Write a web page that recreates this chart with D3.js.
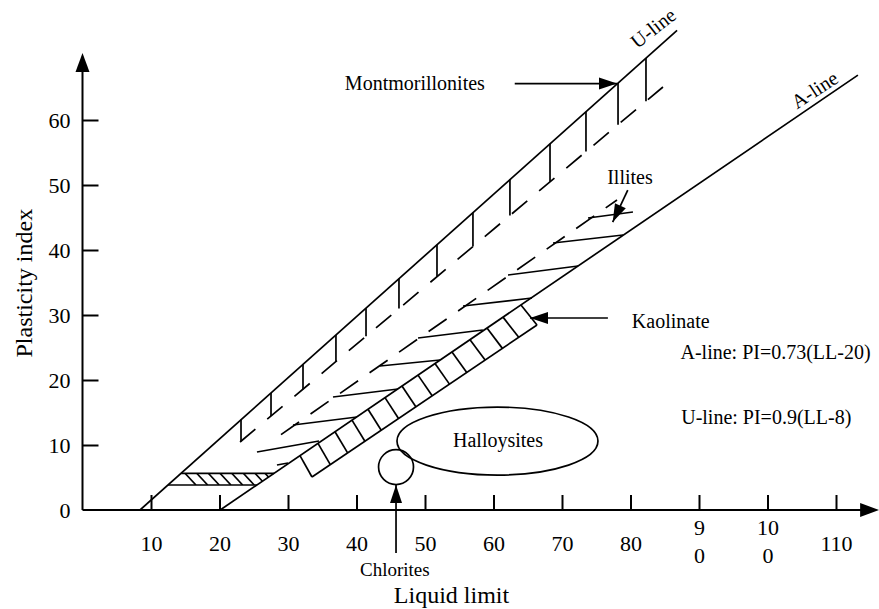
<!DOCTYPE html>
<html>
<head>
<meta charset="utf-8">
<script src="https://cdn.jsdelivr.net/npm/d3@7"></script>
<style>
  body { margin: 0; background: #fff; }
  svg { display: block; font-family: "Liberation Serif", "Times New Roman", serif; }
</style>
</head>
<body>
<div id="chart"></div>
<script>
// Axis ticks
const xTicks = [10, 20, 30, 40, 50, 60, 70, 80, 90, 100, 110];
const xTickLabels = ["10", "20", "30", "40", "50", "60", "70", "80", "9|0", "10|0", "110"];
const yTicks = [0, 10, 20, 30, 40, 50, 60];

// Boundary lines as drawn, [LL, PI] end points
const uLine = [[8.4, 0], [86.8, 73.8]];
const aLine = [[20.1, 0], [113.2, 66.9]];
const montDash = [[23.0, 10.46], [84.74, 65.08]];
const illiteDash = [[28.98, 11.6], [78.03, 47.69]];

// Montmorillonite ticks (LL), hanging from the U-line down to the dashed line
const montTicks = [23.14, 27.52, 32.19, 37.0, 41.39, 46.2, 51.75, 57.0, 62.4, 68.25, 73.5, 78.18, 82.26];

// Illite hatches, [[LL, PI], [LL, PI]]
const illiteHatches = [
    [[28.39, 6.92], [30.0, 7.23]],
    [[25.47, 8.92], [34.53, 10.62]],
    [[30.73, 13.08], [40.07, 14.31]],
    [[36.57, 17.38], [46.06, 18.62]],
    [[43.43, 22.15], [52.19, 23.08]],
    [[48.98, 26.46], [58.45, 27.69]],
    [[55.55, 31.38], [65.62, 32.62]],
    [[62.12, 36.15], [72.34, 37.54]],
    [[68.69, 41.08], [78.91, 42.31]],
    [[73.80, 44.92], [80.36, 45.85]]
];

// Kaolinite band: cell borders along the A-line (LL) and the lower edge
const kaolinBorders = [31.75, 34.38, 36.86, 39.34, 41.68, 44.16, 46.64, 48.98, 51.46, 53.94, 56.57, 59.05, 61.39, 64.01];
const kaolinLower = [[33.5, 5.08], [66.35, 28.46]];

// Hatched band between U-line and A-line near the origin
const bandPI = [3.85, 5.65];
const bandHatches = [14.96, 16.67, 18.36, 20.07, 21.78, 23.47, 25.18, 26.64];

// Chlorites circle and Halloysites ellipse (LL, PI, radii in axis units)
const chlorite = { ll: 45.77, pi: 6.6, r: 2.55 };
const halloysite = { ll: 60.58, pi: 10.6, rx: 14.67, ry: 5.23 };

// Annotation arrows, from -> tip
const arrows = [
    { from: [63.1, 65.6], to: [78.03, 65.6] },   // Montmorillonites
    { from: [79.6, 49.2], to: [77.4, 44.3] },    // Illites
    { from: [76.7, 29.54], to: [65.33, 29.54] }, // Kaolinate
    { from: [45.77, -6.6], to: [45.77, 3.85] }   // Chlorites
];

const labels = [
    { text: "Montmorillonites", ll: 38.3, pi: 64.6, anchor: "start", size: 20 },
    { text: "Illites", ll: 76.6, pi: 50.15, anchor: "start", size: 20 },
    { text: "Kaolinate", ll: 80.2, pi: 28.0, anchor: "start", size: 20 },
    { text: "A-line: PI=0.73(LL-20)", ll: 87.3, pi: 23.2, anchor: "start", size: 20 },
    { text: "U-line: PI=0.9(LL-8)", ll: 87.4, pi: 13.2, anchor: "start", size: 20 },
    { text: "Halloysites", ll: 60.66, pi: 9.7, anchor: "middle", size: 20 },
    { text: "Chlorites", ll: 45.6, pi: -10.15, anchor: "middle", size: 19 }
];

const lineLabels = [
    { text: "U-line", ll: 81.0, pi: 70.9, angle: -38 },
    { text: "A-line", ll: 104.3, pi: 61.6, angle: -33 }
];

const xTip = 116.3, yTip = 70.3;

// Set up chart
const width = 879, height = 609;
const svg = d3.select("#chart")
    .append("svg")
    .attr("width", width)
    .attr("height", height);

const x = d3.scaleLinear().domain([0, 110]).range([82.5, 836]);
const y = d3.scaleLinear().domain([0, 60]).range([510, 120]);

const pt = p => [x(p[0]), y(p[1])];
const line = d3.line();

// PI on a drawn line at a given LL, and LL at a given PI
const piAt = (seg, ll) => seg[0][1] + (ll - seg[0][0]) * (seg[1][1] - seg[0][1]) / (seg[1][0] - seg[0][0]);
const llAt = (seg, pi) => seg[0][0] + (pi - seg[0][1]) * (seg[1][0] - seg[0][0]) / (seg[1][1] - seg[0][1]);

const draw = svg.append("g")
    .attr("fill", "none")
    .attr("stroke", "#000")
    .attr("stroke-width", 1.7);

// U-line and A-line
[uLine, aLine].forEach(seg => {
    draw.append("path").attr("d", line(seg.map(pt)));
});

// Dashed boundaries
draw.append("path")
    .attr("d", line(montDash.map(pt)))
    .attr("stroke-dasharray", "20,15.5");
draw.append("path")
    .attr("d", line(illiteDash.map(pt)))
    .attr("stroke-dasharray", "22,14");

// Montmorillonite ticks
draw.selectAll(".mont")
    .data(montTicks)
    .enter()
    .append("path")
    .attr("class", "mont")
    .attr("d", d => line([pt([d, piAt(uLine, d)]), pt([d, piAt(montDash, d)])]));

// Illite hatches
draw.selectAll(".illite")
    .data(illiteHatches)
    .enter()
    .append("path")
    .attr("class", "illite")
    .attr("d", d => line(d.map(pt)));

// Kaolinite band
const k0 = kaolinBorders[0], kN = kaolinBorders[kaolinBorders.length - 1];
const kaolinPair = ll => {
    const t = (ll - k0) / (kN - k0);
    const lower = [
        kaolinLower[0][0] + t * (kaolinLower[1][0] - kaolinLower[0][0]),
        kaolinLower[0][1] + t * (kaolinLower[1][1] - kaolinLower[0][1])
    ];
    return [pt([ll, piAt(aLine, ll)]), pt(lower)];
};
draw.append("path")
    .attr("d", line(kaolinLower.map(pt)));
draw.selectAll(".kaolin")
    .data(kaolinBorders)
    .enter()
    .append("path")
    .attr("class", "kaolin")
    .attr("d", d => line(kaolinPair(d)));

// Hatched band near the origin
const bandPoly = [
    [llAt(uLine, bandPI[1]), bandPI[1]],
    [llAt(aLine, bandPI[1]), bandPI[1]],
    [llAt(aLine, bandPI[0]), bandPI[0]],
    [llAt(uLine, bandPI[0]), bandPI[0]]
];
svg.append("clipPath")
    .attr("id", "bandClip")
    .append("path")
    .attr("d", line(bandPoly.map(pt)) + "Z");
draw.append("path").attr("d", line([bandPoly[0], bandPoly[1]].map(pt)));
draw.append("path").attr("d", line([bandPoly[3], bandPoly[2]].map(pt)));
draw.append("g")
    .attr("clip-path", "url(#bandClip)")
    .selectAll("path")
    .data(bandHatches)
    .enter()
    .append("path")
    .attr("d", d => line([pt([d, bandPI[1]]), pt([d + 1.6, bandPI[0]])]));

// Chlorites and Halloysites
draw.append("circle")
    .attr("cx", x(chlorite.ll))
    .attr("cy", y(chlorite.pi))
    .attr("r", x(chlorite.r) - x(0));
draw.append("ellipse")
    .attr("cx", x(halloysite.ll))
    .attr("cy", y(halloysite.pi))
    .attr("rx", x(halloysite.rx) - x(0))
    .attr("ry", y(0) - y(halloysite.ry));

// Arrow head helper (pixel space)
function arrowHead(tip, from, len, half) {
    const dx = tip[0] - from[0], dy = tip[1] - from[1];
    const d = Math.hypot(dx, dy), ux = dx / d, uy = dy / d;
    const bx = tip[0] - ux * len, by = tip[1] - uy * len;
    return line([tip, [bx - uy * half, by + ux * half], [bx + uy * half, by - ux * half]]) + "Z";
}

arrows.forEach(a => {
    const from = pt(a.from), tip = pt(a.to);
    draw.append("path").attr("d", line([from, tip]));
    svg.append("path")
        .attr("d", arrowHead(tip, from, 18, 6))
        .attr("fill", "#000");
});

// Axes
const yAxis = svg.append("g")
    .attr("transform", `translate(${x(0)},0)`)
    .call(d3.axisLeft(y).tickValues(yTicks).tickSize(-16).tickSizeOuter(0).tickPadding(12));
const xAxis = svg.append("g")
    .attr("transform", `translate(0,${y(0)})`)
    .call(d3.axisBottom(x).tickValues(xTicks).tickSize(-15).tickSizeOuter(0).tickPadding(25)
        .tickFormat((d, i) => xTickLabels[i]));

[yAxis, xAxis].forEach(g => {
    g.attr("font-family", null).attr("font-size", null);
    g.select(".domain").remove();
    g.selectAll(".tick line").attr("stroke", "#000").attr("stroke-width", 2);
    g.selectAll(".tick text").attr("fill", "#000").style("font-size", "22px");
});
yAxis.selectAll(".tick").filter(d => d === 0).select("line").remove();

// Split tick labels onto two lines
xAxis.selectAll(".tick text").each(function(d, i) {
    const parts = xTickLabels[i].split("|");
    if (parts.length < 2) return;
    const t = d3.select(this).attr("dy", null).text(null);
    t.append("tspan").attr("x", 0).attr("dy", 0).text(parts[0]);
    t.append("tspan").attr("x", 0).attr("dy", 28).text(parts[1]);
});

// Axis lines with arrows
svg.append("path")
    .attr("d", line([[x(0), y(0)], [x(0), y(yTip) + 14]]))
    .attr("stroke", "#000").attr("stroke-width", 2);
svg.append("path")
    .attr("d", arrowHead([x(0), y(yTip)], [x(0), y(0)], 19, 7))
    .attr("fill", "#000");
svg.append("path")
    .attr("d", line([[x(0), y(0)], [x(xTip) - 14, y(0)]]))
    .attr("stroke", "#000").attr("stroke-width", 2);
svg.append("path")
    .attr("d", arrowHead([x(xTip), y(0)], [x(0), y(0)], 19, 7))
    .attr("fill", "#000");

// Axis titles
svg.append("text")
    .attr("x", 451.5)
    .attr("y", 603)
    .attr("text-anchor", "middle")
    .style("font-size", "24px")
    .text("Liquid limit");

svg.append("text")
    .attr("transform", `translate(32,${y(34.9)}) rotate(-90)`)
    .attr("text-anchor", "middle")
    .style("font-size", "24px")
    .text("Plasticity index");

// Annotations
svg.selectAll(".label")
    .data(labels)
    .enter()
    .append("text")
    .attr("class", "label")
    .attr("x", d => x(d.ll))
    .attr("y", d => y(d.pi))
    .attr("text-anchor", d => d.anchor)
    .style("font-size", d => d.size + "px")
    .text(d => d.text);

svg.selectAll(".line-label")
    .data(lineLabels)
    .enter()
    .append("text")
    .attr("class", "line-label")
    .attr("transform", d => `translate(${x(d.ll)},${y(d.pi)}) rotate(${d.angle})`)
    .style("font-size", "20px")
    .text(d => d.text);
</script>
</body>
</html>
